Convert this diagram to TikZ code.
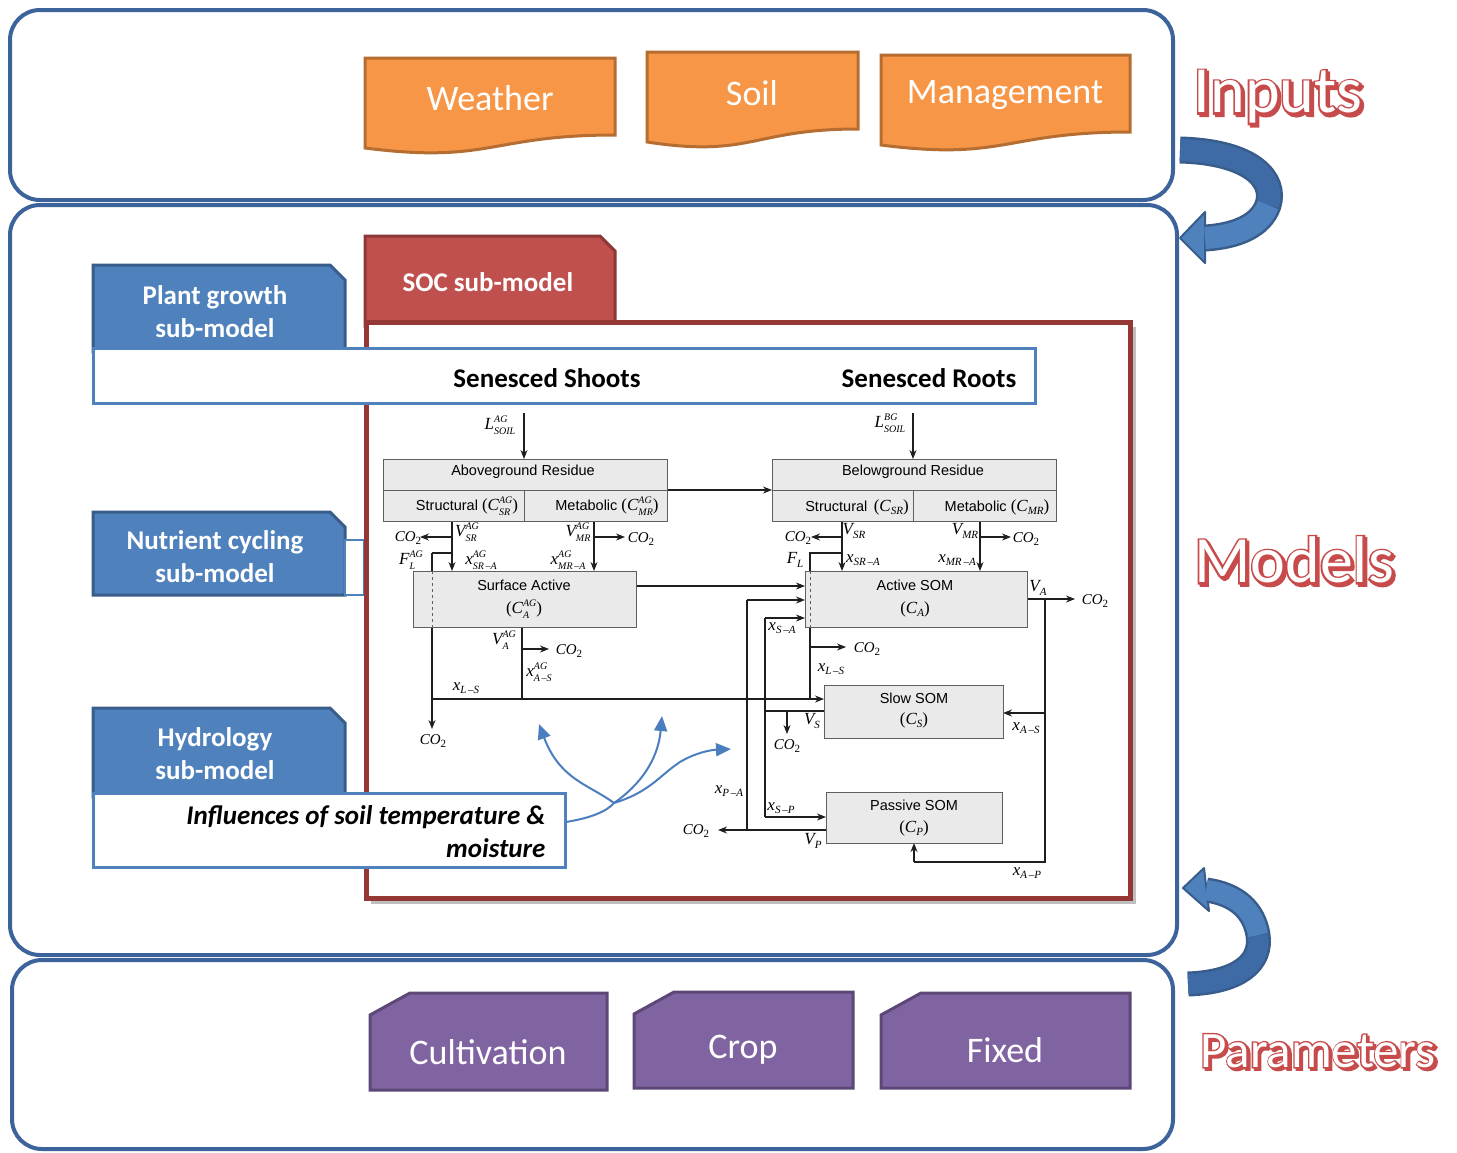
\documentclass[tikz,border=0pt]{standalone}
\usepackage{fontspec}
\setmainfont{Carlito}
\newfontfamily\arialf{Liberation Sans}
\newfontfamily\timesf{Liberation Serif}
\newfontfamily\wafat[FakeBold=6]{Carlito}
\usetikzlibrary{arrows.meta,calc}
\definecolor{panelc}{RGB}{60,100,155}
\definecolor{orf}{RGB}{247,150,70}
\definecolor{ord}{RGB}{182,109,49}
\definecolor{puf}{RGB}{128,100,162}
\definecolor{pud}{RGB}{92,71,118}
\definecolor{blf}{RGB}{79,129,189}
\definecolor{bldark}{RGB}{62,106,166}
\definecolor{bld}{RGB}{56,93,138}
\definecolor{rdf}{RGB}{192,80,77}
\definecolor{rdd}{RGB}{140,56,54}
\definecolor{socb}{RGB}{149,55,53}
\definecolor{boxf}{RGB}{234,234,234}
\definecolor{boxd}{RGB}{95,95,95}
\definecolor{lnc}{RGB}{30,30,30}
\definecolor{lblr}{RGB}{200,75,75}
\definecolor{curvec}{RGB}{74,126,191}
\newcommand{\mv}[3]{{\timesf\itshape #1}\hbox{\fontsize{10}{10}\timesf\itshape
  \setbox0\hbox{#2}\setbox2\hbox{#3}%
  \dimen0=\ifdim\wd0>\wd2 \wd0\else\wd2\fi
  \rlap{\raise7.5pt\box0}\rlap{\lower5pt\box2}\kern\dimen0}}
\newcommand{\ms}[2]{{\timesf\itshape #1}\hbox{\fontsize{11}{11}\timesf\itshape\lower3.5pt\hbox{#2}}}
\newcommand{\cotwo}{{\timesf\itshape CO}\hbox{\fontsize{11}{11}\timesf\lower3.5pt\hbox{2}}}
\newcommand{\wordart}[4]{%
  \node[font=\wafat#3,text=lblr] at ($#2+(2.2,2.2)$) {#4};
  \node[font=\wafat#3,text=lblr] at #2 {#4};
  \node[font=#3,text=white] (#1) at #2 {#4};}
\tikzset{
  panel/.style={draw=panelc, line width=4pt, rounded corners=30pt},
  docbox/.style={draw=ord, fill=orf, line width=3pt},
  parbox/.style={draw=pud, fill=puf, line width=3pt},
  subbox/.style={draw=bld, fill=blf, line width=3pt},
  wbox/.style={draw=blf, fill=white, line width=3pt},
  bigw/.style={text=white, font=\fontsize{36}{36}\selectfont},
  subt/.style={text=white, font=\bfseries\fontsize{27}{33}\selectfont, align=center},
  ibox/.style={draw=boxd, fill=boxf, line width=1pt, inner sep=0pt},
  itxt/.style={font=\arialf\fontsize{14.5}{15}\selectfont, inner sep=0pt},
  lbl/.style={inner sep=0pt, font=\fontsize{17}{17}\selectfont},
  co/.style={inner sep=0pt, font=\fontsize{15}{15}\selectfont},
  ln/.style={draw=lnc, line width=1.1pt},
  ar/.style={draw=lnc, line width=1.1pt, -{Stealth[length=9pt,width=7pt]}},
  bc/.style={draw=curvec, line width=2pt},
  bca/.style={draw=curvec, line width=2pt, -{Triangle[length=15pt,width=13pt]}},
}
\begin{document}
\begin{tikzpicture}[x=1pt,y=-1pt]
\useasboundingbox (0,0) rectangle (1457,1152);
\fill[white] (0,0) rectangle (1457,1152);

% ---------- panels ----------
\draw[panel] (10,10) rectangle (1173,200);
\draw[panel] (10,205) rectangle (1177,955);
\draw[panel] (12,960) rectangle (1173,1149);

% ---------- inputs ----------
\draw[docbox] (365,58) -- (615,58) -- (615,135) .. controls (490,135) and (490,164) .. (365,148) -- cycle;
\node[bigw] (weather) at (490,98) {Weather};
\draw[docbox] (647,52) -- (858,52) -- (858,129) .. controls (752,129) and (752,158) .. (647,142) -- cycle;
\node[bigw] (soil) at (752,93) {Soil};
\draw[docbox] (881,55) -- (1130,55) -- (1130,132) .. controls (1005,132) and (1005,161) .. (881,145) -- cycle;
\node[bigw] (mgmt) at (1005,95) {Management};

% ---------- parameters ----------
\draw[parbox] (410,993) -- (607,993) -- (607,1090) -- (370,1090) -- (370,1015) -- cycle;
\node[bigw] (cult) at (488,1052) {Cultivation};
\draw[parbox] (674,992) -- (853,992) -- (853,1088) -- (634,1088) -- (634,1014) -- cycle;
\node[bigw] (crop) at (743,1050) {Crop};
\draw[parbox] (921,993) -- (1130,993) -- (1130,1088) -- (881,1088) -- (881,1015) -- cycle;
\node[bigw] (fixed) at (1005,1050) {Fixed};

% ---------- sub-model boxes ----------
\draw[subbox] (93,265) -- (330,265) -- (345,280) -- (345,352) -- (93,352) -- cycle;
\node[subt] (plant) at (215,312) {Plant growth\\sub-model};
\draw[subbox] (93,512) -- (330,512) -- (345,527) -- (345,595) -- (93,595) -- cycle;
\node[subt] (nutr) at (215,557) {Nutrient cycling\\sub-model};
\draw[draw=blf, fill=white, line width=2.5pt] (345,540) rectangle (364,595);
\draw[subbox] (93,708) -- (330,708) -- (345,723) -- (345,797) -- (93,797) -- cycle;
\node[subt] (hydro) at (215,754) {Hydrology\\sub-model};

% ---------- SOC ----------
\draw[draw=rdd, fill=rdf, line width=3pt] (365,236) -- (600,236) -- (615,251) -- (615,326) -- (365,326) -- cycle;
\node[subt, anchor=west] (soct) at (399,282) {SOC sub-model};
\fill[black!25] (371,327) rectangle (1136,904);
\draw[draw=socb, fill=white, line width=5pt] (366,322) rectangle (1130,898);

\draw[wbox] (93,348) rectangle (1035,403);
\node[font=\bfseries\fontsize{27}{27}\selectfont] (shoots) at (547,378) {Senesced Shoots};
\node[font=\bfseries\fontsize{27}{27}\selectfont] (roots) at (929,378) {Senesced Roots};

\draw[wbox] (93,793) rectangle (565,867);
\node[font=\bfseries\itshape\fontsize{27}{33}\selectfont, align=right, anchor=east] (infl) at (549,832) {Influences of soil temperature \&\\moisture};

% ---------- inner diagram: connectors ----------
\draw[ar] (524,413) -- (524,459);
\draw[ar] (667,490) -- (772,490);
\draw[ar] (452,521) -- (452,571);
\draw[ar] (452,537) -- (420,537);
\draw[ln] (452,553) -- (432,553);
\draw[ar] (432,553) -- (432,729);
\draw[ar] (594,521) -- (594,571);
\draw[ar] (594,537) -- (625,537);
\draw[ar] (636,586) -- (805,586);
\draw[ln] (522,627) -- (522,699);
\draw[ar] (522,649) -- (549,649);
\draw[ar] (432,699) -- (824,699);

\draw[ar] (913,413) -- (913,459);
\draw[ar] (842,521) -- (842,571);
\draw[ar] (842,537) -- (811,537);
\draw[ln] (842,553) -- (810,553) -- (810,699);
\draw[ar] (810,647) -- (846,647);
\draw[ar] (980,521) -- (980,571);
\draw[ar] (980,537) -- (1011,537);
\draw[ar] (1027,599) -- (1075,599);
\draw[ln] (1045,599) -- (1045,862) -- (914,862);
\draw[ar] (914,862) -- (914,843);
\draw[ar] (1045,713) -- (1003,713);
\draw[ln] (824,711) -- (765,711);
\draw[ar] (787,711) -- (787,734);
\draw[ar] (765,618) -- (805,618);
\draw[ln] (765,618) -- (765,817);
\draw[ar] (765,817) -- (826,817);
\draw[ar] (826,830) -- (718,830);
\draw[ln] (747,830) -- (747,600);
\draw[ar] (747,600) -- (805,600);

% ---------- inner diagram: boxes ----------
\node[ibox, minimum width=284pt, minimum height=62pt] (ag) at (525,490) {};
\draw[boxd, line width=1pt] (383,490) -- (667,490) (524,490) -- (524,521);
\node[itxt] (agt) at (523,472) {Aboveground Residue};
\node[itxt] (agsr) at (467,506) {Structural {\fontsize{17}{17}\selectfont\timesf(\mv{C}{AG}{SR})}};
\node[itxt] (agmr) at (607,506) {Metabolic {\fontsize{17}{17}\selectfont\timesf(\mv{C}{AG}{MR})}};

\node[ibox, minimum width=284pt, minimum height=62pt] (bg) at (914,490) {};
\draw[boxd, line width=1pt] (772,490) -- (1056,490) (913,490) -- (913,521);
\node[itxt] (bgt) at (913,472) {Belowground Residue};
\node[itxt] (bgsr) at (857,507) {Structural\, {\fontsize{17}{17}\selectfont\timesf(\ms{C}{SR})}};
\node[itxt] (bgmr) at (997,507) {Metabolic {\fontsize{17}{17}\selectfont\timesf(\ms{C}{MR})}};

\node[ibox, minimum width=223pt, minimum height=56pt] (sa) at (524.5,599) {};
\draw[boxd, dashed, line width=0.8pt] (432,571) -- (432,627);
\node[itxt] (sat) at (524,585) {Surface Active};
\node[lbl] (sac) at (524,609) {\timesf(\mv{C}{AG}{A})};

\node[ibox, minimum width=222pt, minimum height=56pt] (act) at (916,599) {};
\draw[boxd, dashed, line width=0.8pt] (810,571) -- (810,627);
\node[itxt] (actt) at (915,585) {Active SOM};
\node[lbl] (actc) at (915,609) {\timesf(\ms{C}{A})};

\node[ibox, minimum width=179pt, minimum height=53pt] (slow) at (913.5,711.5) {};
\node[itxt] (slowt) at (914,698) {Slow SOM};
\node[lbl] (slowc) at (914,720) {\timesf(\ms{C}{S})};

\node[ibox, minimum width=176pt, minimum height=51pt] (pas) at (914,817.5) {};
\node[itxt] (past) at (914,805) {Passive SOM};
\node[lbl] (pasc) at (914,828) {\timesf(\ms{C}{P})};

% ---------- inner diagram: labels ----------
\node[lbl] (lag) at (500,425) {\mv{L}{AG}{SOIL}};
\node[co] (co1) at (408,538) {\cotwo};
\node[lbl] (vsrag) at (467,532) {\mv{V}{AG}{SR}};
\node[lbl] (flag) at (411,560) {\mv{F}{AG}{L}};
\node[lbl] (xsrag) at (481,560) {\mv{x}{AG}{SR\,–A}};
\node[lbl] (vmrag) at (578,532) {\mv{V}{AG}{MR}};
\node[co] (co2) at (641,539) {\cotwo};
\node[lbl] (xmrag) at (568,560) {\mv{x}{AG}{MR\,–A}};
\node[lbl] (vaag) at (504,640) {\mv{V}{AG}{A}};
\node[co] (co3) at (569,651) {\cotwo};
\node[lbl] (xasag) at (539,672) {\mv{x}{AG}{A\,–S}};
\node[lbl] (xls1) at (466,688) {\ms{x}{L\,–S}};
\node[co] (co4) at (433,741) {\cotwo};

\node[lbl] (lbg) at (890,423) {\mv{L}{BG}{SOIL}};
\node[co] (co5) at (798,538) {\cotwo};
\node[lbl] (vsr) at (854,531) {\ms{V}{SR}};
\node[lbl] (fl) at (795,560) {\ms{F}{L}};
\node[lbl] (xsra) at (863,560) {\ms{x}{SR\,–A}};
\node[lbl] (vmr) at (965,531) {\ms{V}{MR}};
\node[co] (co6) at (1026,539) {\cotwo};
\node[lbl] (xmra) at (957,560) {\ms{x}{MR\,–A}};
\node[lbl] (va) at (1038,588) {\ms{V}{A}};
\node[co] (co7) at (1095,601) {\cotwo};
\node[co] (co8) at (867,649) {\cotwo};
\node[lbl] (xls2) at (831,669) {\ms{x}{L\,–S}};
\node[lbl] (xsa) at (782,628) {\ms{x}{S\,–A}};
\node[lbl] (vs) at (812,721) {\ms{V}{S}};
\node[co] (co9) at (787,746) {\cotwo};
\node[lbl] (xas) at (1026,728) {\ms{x}{A\,–S}};
\node[lbl] (xpa) at (729,791) {\ms{x}{P\,–A}};
\node[lbl] (xsp) at (781,808) {\ms{x}{S\,–P}};
\node[co] (co10) at (696,831) {\cotwo};
\node[lbl] (vp) at (813,841) {\ms{V}{P}};
\node[lbl] (xap) at (1027,873) {\ms{x}{A\,–P}};

% ---------- influence curves ----------
\coordinate (junc) at (614,803);
\coordinate (inflout) at (566,822);
\draw[bc] (inflout) .. controls (590,818) and (606,812) .. (junc);
\draw[bca] (junc) .. controls (590,785) and (560,780) .. (539,724);
\draw[bca] (junc) .. controls (640,785) and (658,760) .. (662,716);
\draw[bca] (junc) .. controls (650,792) and (660,775) .. (680,762) .. controls (695,753) and (710,750) .. (731,749);

% ---------- big curved arrows ----------
\draw[bld, line width=27pt] (1180,150) .. controls (1252,152) and (1276,180) .. (1268,205) .. controls (1261,225) and (1238,236) .. (1205,238);
\draw[bld, line width=2pt, fill=blf, line join=round] (1205,212) -- (1180,238) -- (1205,263) -- cycle;
\draw[bldark, line width=22pt] (1180,150) .. controls (1252,152) and (1276,180) .. (1268,205);
\draw[blf, line width=22pt] (1268,205) .. controls (1261,225) and (1238,236) .. (1205,238);

\draw[bld, line width=25pt] (1188,984) .. controls (1240,982) and (1262,962) .. (1258,935) .. controls (1254,910) and (1236,894) .. (1206,890);
\draw[bld, line width=2pt, fill=blf, line join=round] (1204,868) -- (1183,888) -- (1209,911) -- cycle;
\draw[bldark, line width=20pt] (1188,984) .. controls (1240,982) and (1262,962) .. (1258,935);
\draw[blf, line width=20pt] (1258,935) .. controls (1254,910) and (1236,894) .. (1206,890);

% ---------- word-art labels ----------
\wordart{inputs}{(1278,97)}{\fontsize{66}{66}\selectfont}{Inputs}
\wordart{models}{(1294,560)}{\fontsize{66}{66}\selectfont}{Models}
\wordart{params}{(1318,1051)}{\fontsize{51}{51}\selectfont}{Parameters}
\end{tikzpicture}
\end{document}
